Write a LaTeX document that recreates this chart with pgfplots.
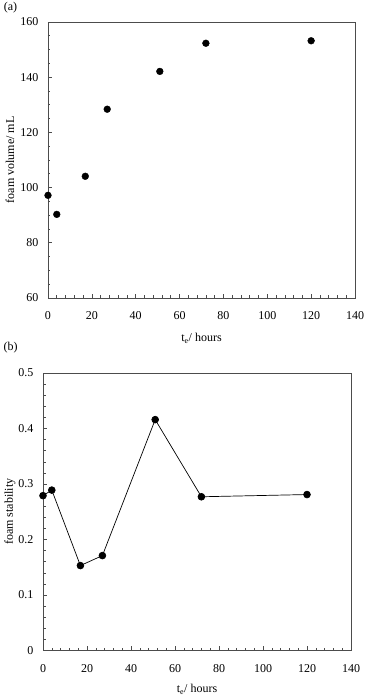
\documentclass[border=0pt]{standalone}
\usepackage{fontspec}
\setmainfont{Liberation Serif}
\usepackage{pgfplots}
\pgfplotsset{compat=1.18}
\begin{document}
\begin{tikzpicture}[font=\fontsize{12}{14}\selectfont]
\useasboundingbox (0,0) rectangle (365pt,697pt);
\pgfplotsset{
  myax/.style={
    scale only axis,
    font=\fontsize{12}{14}\selectfont,
    axis line style={draw=black!70, line width=0.8pt},
    tick align=inside,
    xtick pos=bottom, ytick pos=left,
    major tick length=4pt, minor tick length=2.5pt,
    every tick/.style={black!70, line width=0.6pt},
    /pgf/number format/assume math mode=true,
    xmin=0, xmax=140, xtick={0,20,...,140}, minor x tick num=4,
    xticklabel style={yshift=-10pt, font=\fontsize{12}{14}\selectfont},
    yticklabel style={xshift=-6pt, font=\fontsize{12}{14}\selectfont},
    xlabel={t\textsubscript{e}/ hours},
    clip=false,
  },
}
\begin{axis}[myax,
  at={(48pt,399pt)}, anchor=south west,
  width=307pt, height=276pt,
  ymin=60, ymax=160, ytick={60,80,...,160}, minor y tick num=3,
  xlabel style={at={(axis description cs:0.5,-0.145)}, anchor=center},
  ylabel={foam volume/ mL},
  ylabel style={at={(axis description cs:-0.124,0.5)}, anchor=center},
]
\addplot[only marks, mark=*, mark size=3.4pt, black] coordinates {
  (0,97.2) (4,90.3) (17,104.1) (27,128.4) (51,142.1) (72,152.3) (120,153.2)
};
\end{axis}
\node at (10.5pt,689pt) {(a)};
\node at (10.5pt,349pt) {(b)};
\begin{axis}[myax,
  at={(43pt,46.5pt)}, anchor=south west,
  width=308pt, height=277.5pt,
  ymin=0, ymax=0.5, ytick={0,0.1,...,0.5}, minor y tick num=4,
  yticklabel style={/pgf/number format/fixed, /pgf/number format/precision=1},
  xlabel style={at={(axis description cs:0.5,-0.14)}, anchor=center},
  ylabel={foam stability},
  ylabel style={at={(axis description cs:-0.107,0.5)}, anchor=center},
]
\addplot[black, line width=0.7pt, mark=*, mark size=3.4pt] coordinates {
  (0,0.279) (4,0.289) (17,0.153) (27,0.171) (51,0.416) (72,0.277) (120,0.281)
};
\end{axis}
\end{tikzpicture}
\end{document}
